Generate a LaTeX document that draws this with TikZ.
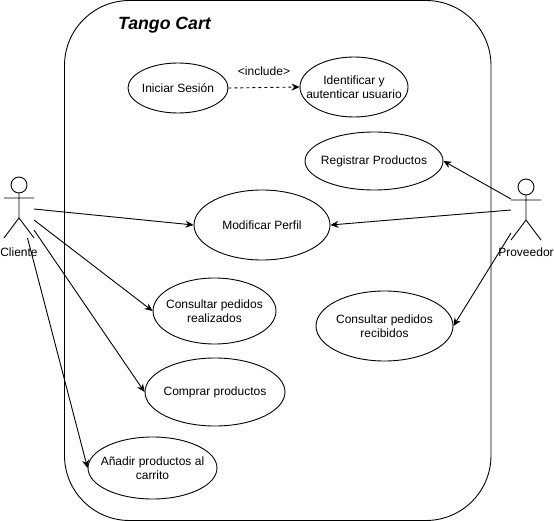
\documentclass[tikz,border=0pt]{standalone}
\usepackage{fontspec}
\setmainfont{Liberation Sans}
\usetikzlibrary{shapes.geometric, arrows.meta}
\tikzset{
	caso/.style={draw, ellipse, inner xsep=-30pt, inner ysep=-10pt, align=center, font=\fontsize{12}{14.5}\selectfont},
	rotulo/.style={font=\fontsize{12}{14}\selectfont, inner sep=0pt},
	actor/.pic={
		\draw (0,-8) circle(8);
		\draw (0,0)--(0,25) (-15,5)--(15,5) (-15,45)--(0,25)--(15,45);
	}
}
\begin{document}
\begin{tikzpicture}[>={Stealth[length=8pt,width=7pt]}, x=1pt, y=-1pt, line width=0.9pt, line join = round]
		\useasboundingbox (0,0) rectangle (554,521);
		\draw (64.5,0.5) [rounded corners=65pt] rectangle (491,520.5);
		\node [font=\fontsize{17.7}{20}\selectfont\bfseries\itshape, inner sep=0pt] (titulo) at (164.5,25) {Tango Cart};
		% casos de uso
		\node [caso, minimum width=100pt, minimum height=50pt] (iniciar) at (178,88) {Iniciar Sesión};
		\node [caso, minimum width=108pt, minimum height=60pt] (identificar) at (354,87) {Identificar y\\autenticar usuario};
		\node [caso, minimum width=138pt, minimum height=58pt] (registrar) at (374,161) {Registrar Productos};
		\node [caso, minimum width=136pt, minimum height=70pt] (modificar) at (262,225) {Modificar Perfil};
		\node [caso, minimum width=123pt, minimum height=66pt] (realizados) at (214.5,311) {Consultar pedidos\\realizados};
		\node [caso, minimum width=137pt, minimum height=70pt] (recibidos) at (384.5,326) {Consultar pedidos\\recibidos};
		\node [caso, minimum width=140pt, minimum height=68pt] (comprar) at (215,392) {Comprar productos};
		\node [caso, minimum width=129pt, minimum height=62pt] (anadir) at (152.5,468) {Añadir productos al\\carrito};
		% actores
		\pic at (19,193) {actor};
		\pic at (526,195) {actor};
		\node [rotulo] (cliente) at (19,252) {Cliente};
		\node [rotulo] (proveedor) at (526,252) {Proveedor};
		\coordinate (c1) at (34,209);
		\coordinate (c2) at (34,220);
		\coordinate (c3) at (34,230);
		\coordinate (c4) at (27.5,238);
		\coordinate (p1) at (511,199);
		\coordinate (p2) at (511,210);
		\coordinate (p3) at (511,233);
		% conectores
		\draw [->] (c1)--(modificar.west);
		\draw [->] (c2)--(realizados.west);
		\draw [->] (c3)--(comprar.west);
		\draw [->] (c4)--(anadir.west);
		\draw [->] (p1)--(registrar.east);
		\draw [->] (p2)--(modificar.east);
		\draw [->] (p3)--(recibidos.east);
		\draw [->, dashed] (iniciar.east)--(identificar.west) node [midway, above=11pt, font=\fontsize{12}{14}\selectfont, inner sep=0pt] (incluye) {<include>};
\end{tikzpicture}
\end{document}
